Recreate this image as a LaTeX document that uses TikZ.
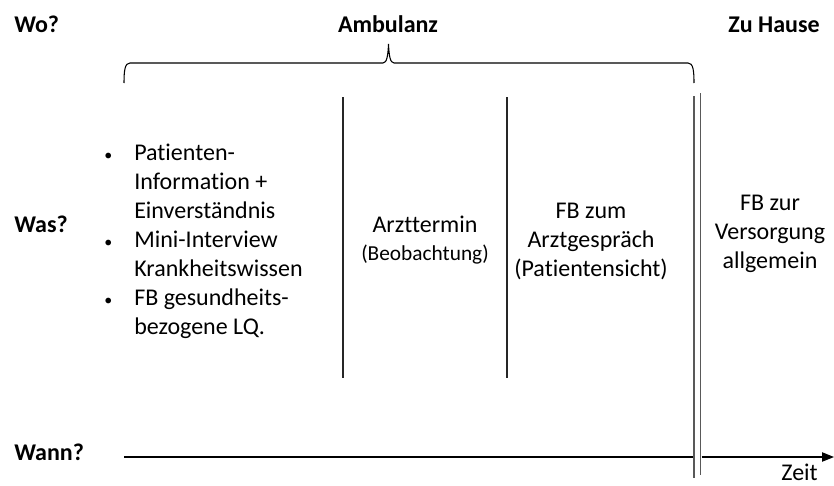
\documentclass[tikz,border=0pt]{standalone}
\usepackage{fontspec}
\setmainfont{Carlito}[RawFeature={-liga,-clig,-dlig,-calt}]
\usetikzlibrary{arrows.meta}
\newcommand{\mybul}{\llap{{\fontsize{12}{12}\selectfont\textbullet}\hspace{16.5pt}}}
\begin{document}
\begin{tikzpicture}[x=0.75pt,y=-0.75pt,
  head/.style={font=\fontsize{18}{21.75}\selectfont\bfseries, inner sep=0pt},
  body/.style={font=\fontsize{18}{21.75}\selectfont, inner sep=0pt, align=center},
  small/.style={font=\fontsize{16}{21.75}\selectfont, inner sep=0pt},
  sep/.style={line width=0.8pt, black!85},
  dbl/.style={line width=1.3pt, black!65},
  axis/.style={line width=0.8pt, black}]
\useasboundingbox (0,0) rectangle (834,485);

% headings
\node[head, anchor=base west] (wo) at (14,33) {Wo?};
\node[head, anchor=base] (amb) at (388,33) {Ambulanz};
\node[head, anchor=base] (zh) at (774,33) {Zu Hause};
\node[head, anchor=base west] (was) at (14,232) {Was?};
\node[head, anchor=base west] (wann) at (14,460) {Wann?};

% brace
\draw[line width=0.8pt] (124,83) .. controls (124,70) and (125,63) .. (130,63)
  -- (383,63) .. controls (387,63) and (388,55) .. (388.5,44)
  .. controls (389,55) and (390,63) .. (394,63)
  -- (688,63) .. controls (693,63) and (694,70) .. (694,83);

% separators
\coordinate (s1t) at (343,97); \coordinate (s1b) at (343,378);
\coordinate (s2t) at (507,97); \coordinate (s2b) at (507,378);
\draw[sep] (s1t) -- (s1b);
\draw[sep] (s2t) -- (s2b);
\coordinate (d1t) at (694,96); \coordinate (d1b) at (694,478);
\coordinate (d2t) at (700.5,93); \coordinate (d2b) at (700.5,475);
\draw[dbl] (d1t) -- (d1b);
\draw[dbl] (d2t) -- (d2b);

% time axis
\coordinate (a0) at (124,457);
\coordinate (a1) at (693,457);
\coordinate (a2) at (701.5,457);
\coordinate (a3) at (834,457);
\draw[axis] (a0) -- (a1);
\draw[axis,-{Triangle[length=9pt,width=7pt]}] (a2) -- (a3);
\node[body, anchor=base east] (zeit) at (818,480) {Zeit};

% column texts
\node[body, anchor=base west, align=left] (list) at (134,334)
 {\mybul Patienten-\\
  Information +\\
  Einverständnis\\
  \mybul Mini-Interview\\
  Krankheitswissen\\
  \mybul FB gesundheits-\\
  bezogene LQ.};

\node[body, anchor=base] (arzt) at (425,232) {Arzttermin};
\node[small, anchor=base] (beob) at (425,260) {(Beobachtung)};

\node[body] (fb1) at (591,241) {FB zum\\Arztgespräch\\(Patientensicht)};
\node[body] (fb2) at (770,234) {FB zur\\Versorgung\\allgemein};
\end{tikzpicture}
\end{document}
